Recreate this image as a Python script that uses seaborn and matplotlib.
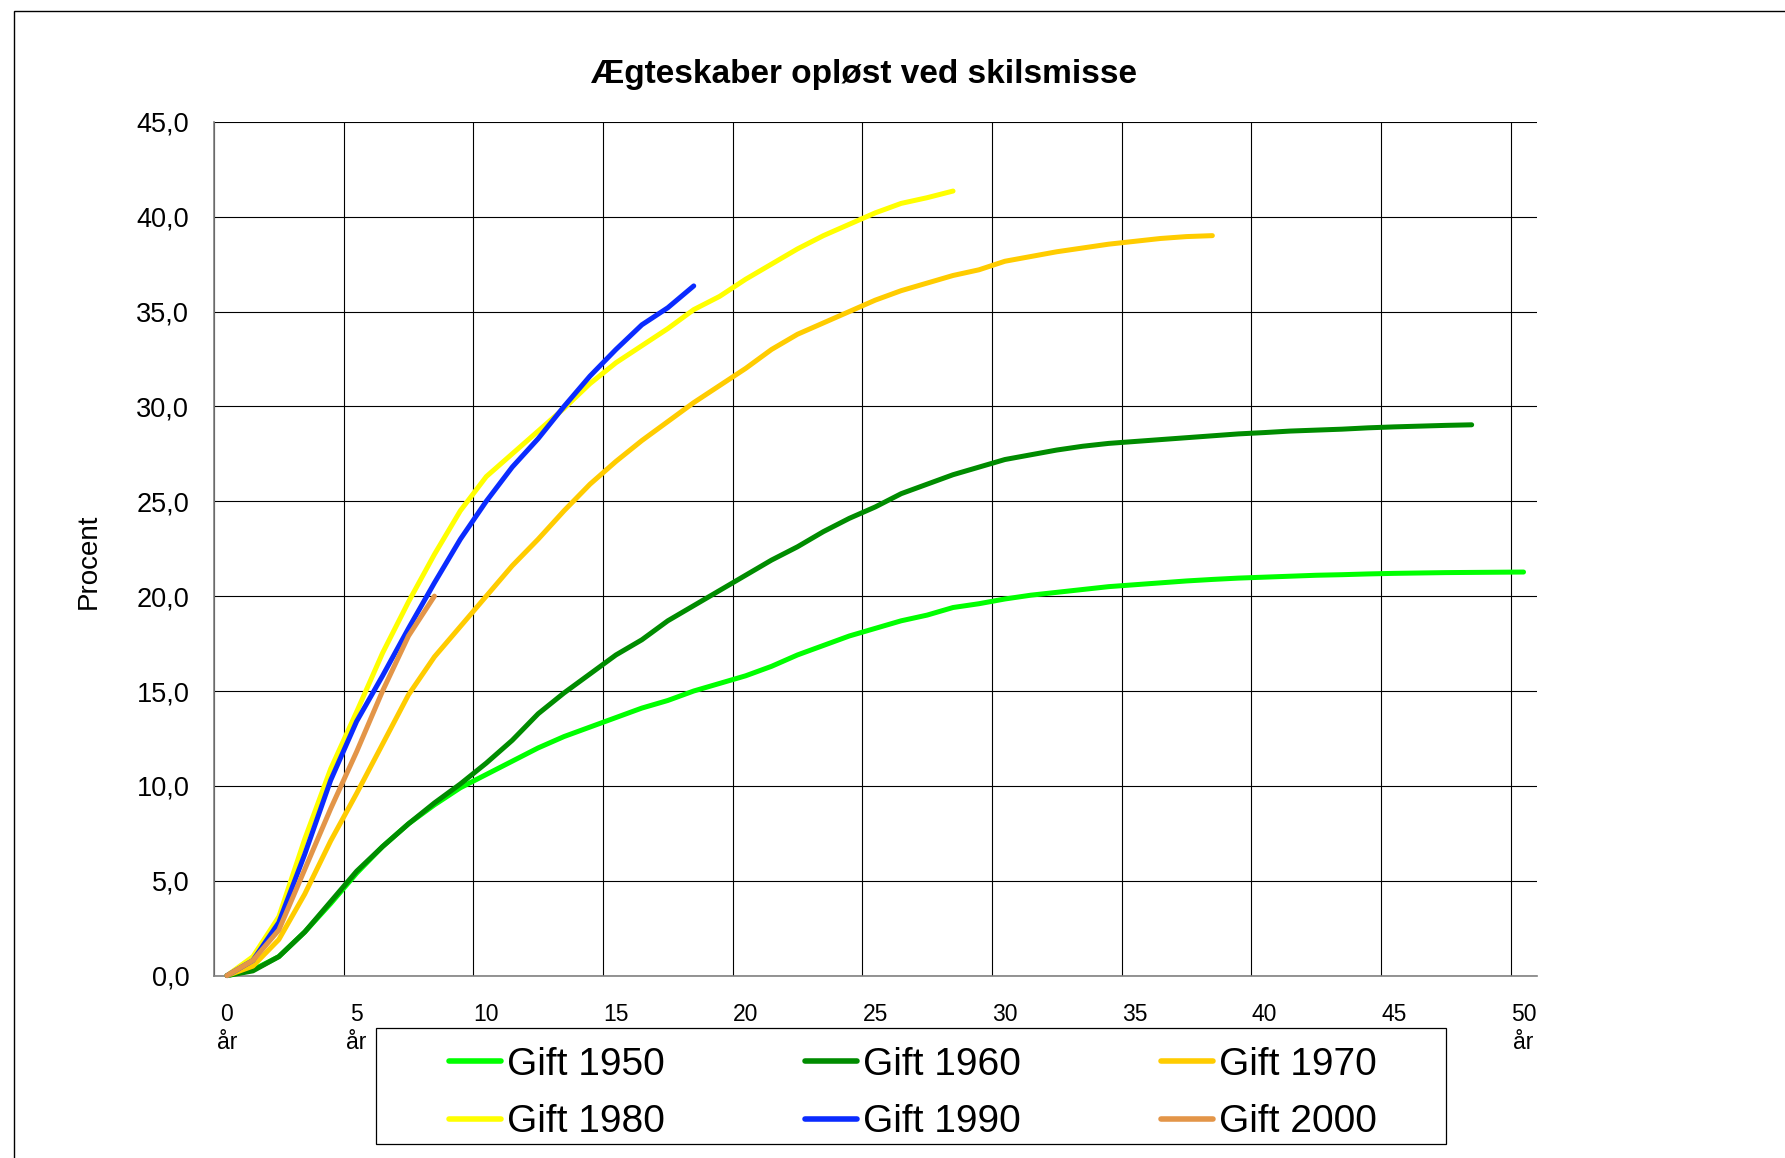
import numpy as np
import pandas as pd
import seaborn as sns
import matplotlib.pyplot as plt
from matplotlib.lines import Line2D
from matplotlib.patches import Rectangle

# cumulative share (%) of marriages dissolved by divorce, per year of marriage
gift_1950 = [0, 0.3, 1.0, 2.3, 3.8, 5.4, 6.8, 8.0, 9.0, 9.9, 10.6, 11.3, 12.0, 12.6, 13.1,
             13.6, 14.1, 14.5, 15.0, 15.4, 15.8, 16.3, 16.9, 17.4, 17.9, 18.3, 18.7, 19.0,
             19.4, 19.6, 19.85, 20.05, 20.2, 20.35, 20.5, 20.6, 20.7, 20.8, 20.88, 20.95,
             21.0, 21.05, 21.1, 21.13, 21.17, 21.2, 21.22, 21.24, 21.25, 21.26, 21.27]
gift_1960 = [0, 0.25, 1.0, 2.3, 3.9, 5.5, 6.8, 8.0, 9.1, 10.1, 11.2, 12.4, 13.8, 14.9, 15.9,
             16.9, 17.7, 18.7, 19.5, 20.3, 21.1, 21.9, 22.6, 23.4, 24.1, 24.7, 25.4, 25.9,
             26.4, 26.8, 27.2, 27.45, 27.7, 27.9, 28.05, 28.15, 28.25, 28.35, 28.45, 28.55,
             28.62, 28.7, 28.75, 28.8, 28.87, 28.92, 28.96, 29.0, 29.03]
gift_1970 = [0, 0.5, 1.9, 4.3, 7.1, 9.6, 12.2, 14.8, 16.8, 18.4, 20.0, 21.6, 23.0, 24.5, 25.9,
             27.1, 28.2, 29.2, 30.2, 31.1, 32.0, 33.0, 33.8, 34.4, 35.0, 35.6, 36.1, 36.5,
             36.9, 37.2, 37.65, 37.9, 38.15, 38.35, 38.55, 38.7, 38.85, 38.95, 39.0]
gift_1980 = [0, 1.0, 3.1, 7.2, 10.9, 13.9, 17.0, 19.7, 22.2, 24.5, 26.3, 27.5, 28.7, 29.9,
             31.2, 32.3, 33.2, 34.1, 35.1, 35.8, 36.7, 37.5, 38.3, 39.0, 39.6, 40.2, 40.7,
             41.0, 41.35]
gift_1990 = [0, 0.8, 2.8, 6.4, 10.3, 13.4, 15.8, 18.3, 20.7, 23.0, 25.0, 26.8, 28.3, 30.0,
             31.6, 33.0, 34.3, 35.2, 36.35]
gift_2000 = [0, 0.8, 2.4, 5.6, 8.8, 11.8, 15.0, 17.9, 20.0]

series_labels = ['Gift 1950', 'Gift 1960', 'Gift 1970', 'Gift 1980', 'Gift 1990', 'Gift 2000']
series_values = [gift_1950, gift_1960, gift_1970, gift_1980, gift_1990, gift_2000]
series_colors = ['#00FF00', '#008C00', '#FFCC00', '#FFFF00', '#0A2BFF', '#E39548']

x_ticks = list(range(0, 51, 5))
x_tick_labels = ['0\når', '5\når', '10', '15', '20', '25', '30', '35', '40', '45', '50\når']
y_ticks = list(range(0, 46, 5))
y_tick_labels = ['0,0', '5,0', '10,0', '15,0', '20,0', '25,0', '30,0', '35,0', '40,0', '45,0']

rows = []
for lab, vals in zip(series_labels, series_values):
    for k, v in enumerate(vals):
        rows.append({'aar': k, 'procent': v, 'serie': lab})
df = pd.DataFrame(rows)

sns.set_theme(style='white', rc={'text.color': 'black', 'axes.labelcolor': 'black',
                                 'xtick.color': 'black', 'ytick.color': 'black'})
plt.rcParams['font.family'] = ['Liberation Sans', 'DejaVu Sans']

W, H = 1785, 1158
fig = plt.figure(figsize=(W / 100, H / 100), dpi=100)
ax = fig.add_axes([214 / W, 1 - 975.6 / H, 1322.5 / W, 853.8 / H])

sns.lineplot(data=df, x='aar', y='procent', hue='serie', hue_order=series_labels,
             palette=dict(zip(series_labels, series_colors)), linewidth=3.6,
             errorbar=None, legend=False, ax=ax, solid_capstyle='round',
             solid_joinstyle='round', clip_on=False, zorder=3)

ax.set_xlim(-0.5, 50.5)
ax.set_ylim(0, 45)
ax.set_xticks(x_ticks, labels=x_tick_labels)
ax.set_xticks(np.arange(-0.5, 50, 5), minor=True)
ax.set_yticks(y_ticks, labels=y_tick_labels)
ax.grid(False)
ax.xaxis.grid(True, which='minor', color='black', lw=0.8)
ax.yaxis.grid(True, which='major', color='black', lw=0.8)
ax.set_axisbelow(True)
ax.tick_params(axis='x', which='both', length=0, pad=19.5, labelsize=16.5, labelcolor='black')
ax.tick_params(axis='y', length=5.8, width=0.8, color='black', direction='out',
               pad=12, labelsize=19.5, labelcolor='black')
for t in ax.get_xticklabels():
    t.set_linespacing(1.3)
for s in ['top', 'right']:
    ax.spines[s].set_visible(False)
for s in ['left', 'bottom']:
    ax.spines[s].set_color('#808080')
    ax.spines[s].set_linewidth(1.2)
ax.set_xlabel('')
ax.set_ylabel('')

fig.text(864 / W, 1 - 74 / H, 'Ægteskaber opløst ved skilsmisse', ha='center', va='center',
         fontsize=24, fontweight='bold', color='black')
fig.text(89 / W, 1 - 561 / H, 'Procent', rotation=90, ha='center', va='center',
         fontsize=20, color='black')

handles = [Line2D([], [], color=c, lw=4, solid_capstyle='round') for c in series_colors]
order = [0, 3, 1, 4, 2, 5]
fig.legend([handles[i] for i in order], [series_labels[i] for i in order],
           loc='center', bbox_to_anchor=(913 / W, 1 - 1093.5 / H), ncol=3, frameon=False,
           fontsize=28, handlelength=1.34, handletextpad=0.15, columnspacing=3.6,
           labelspacing=0.56, borderpad=0, labelcolor='black')
fig.add_artist(Rectangle((376 / W, 1 - 1144 / H), 1070 / W, 116 / H,
                         transform=fig.transFigure, fill=False, ec='black', lw=0.9))
# outer chart border (top and left edges visible)
fig.add_artist(Rectangle((14 / W, -0.5), 2, 1.5 - 11.4 / H, transform=fig.transFigure,
                         fill=False, ec='black', lw=1))

fig.savefig('out.png', dpi=100)
